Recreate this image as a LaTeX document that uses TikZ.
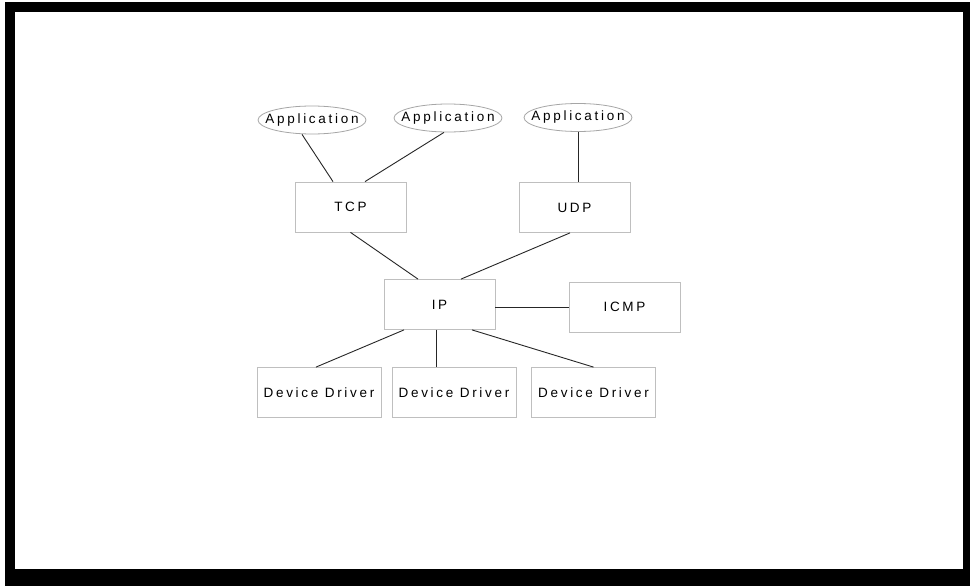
\documentclass[tikz,border=0pt]{standalone}
\usepackage{fontspec}
\usetikzlibrary{shapes.geometric}
\newfontfamily\diafont{Liberation Sans}[LetterSpace=20]
\begin{document}
\begin{tikzpicture}[x=1pt,y=-1pt,
  caja/.style={draw=gray!50,line width=0.8pt,minimum width=111pt,minimum height=50pt,inner sep=0pt,font=\diafont\fontsize{13.5}{15}\selectfont},
  app/.style={ellipse,draw=gray!70,line width=0.8pt,minimum width=108pt,minimum height=28pt,inner xsep=-22pt,inner ysep=0pt,font=\diafont\fontsize{13.5}{15}\selectfont},
  enlace/.style={draw=black!85,line width=0.9pt}]
  % Marco con sombra y pila de protocolos
  \useasboundingbox (0,0) rectangle (970,586);
  \fill[black] (5,2) rectangle (970,586);
  \fill[white] (15,12) rectangle (963,569);
  \node[app] (app1) at (312,120) {Application};
  \node[app] (app2) at (448,118) {Application};
  \node[app] (app3) at (578,117.5) {Application};
  \node[caja] (tcp) at (350.5,207) {TCP};
  \node[caja] (udp) at (574.5,207.5) {UDP};
  \node[caja] (ip) at (439.5,304.5) {IP};
  \node[caja] (icmp) at (624.5,307) {ICMP};
  \node[caja,minimum width=124pt] (dd1) at (319,392.5) {Device Driver};
  \node[caja,minimum width=124pt] (dd2) at (454,392.5) {Device Driver};
  \node[caja,minimum width=124pt] (dd3) at (593.5,392.5) {Device Driver};
  \draw[enlace] ([xshift=-10pt]app1.south) -- ([xshift=-17.5pt]tcp.north);
  \draw[enlace] ([xshift=-4pt]app2.south) -- ([xshift=14.5pt]tcp.north);
  \draw[enlace] (app3.south) -- (app3.south |- udp.north);
  \draw[enlace] (tcp.south) -- ([xshift=-21.5pt]ip.north);
  \draw[enlace] ([xshift=-4.5pt]udp.south) -- ([xshift=21.5pt]ip.north);
  \draw[enlace] (ip.east |- icmp.west) -- (icmp.west);
  \draw[enlace] ([xshift=-35.5pt]ip.south) -- ([xshift=-3pt]dd1.north);
  \draw[enlace] ([xshift=-18pt]dd2.north |- ip.south) -- ([xshift=-18pt]dd2.north);
  \draw[enlace] ([xshift=32.5pt]ip.south) -- (dd3.north);
\end{tikzpicture}
\end{document}
